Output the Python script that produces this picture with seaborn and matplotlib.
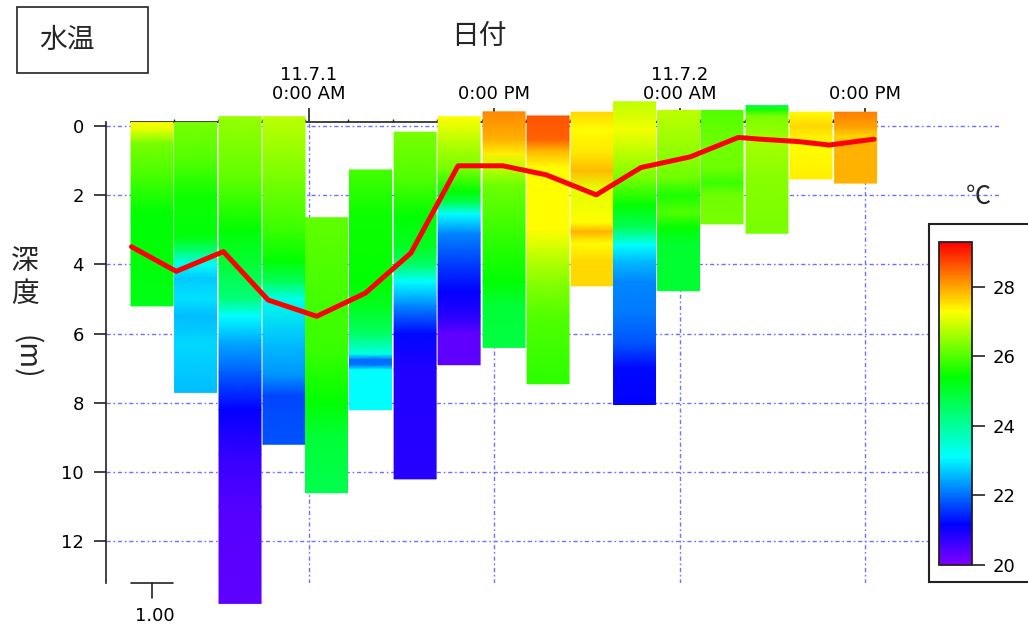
import numpy as np
import matplotlib
matplotlib.use("Agg")
import matplotlib.pyplot as plt
import matplotlib.transforms as mtransforms
from matplotlib.colors import LinearSegmentedColormap, Normalize
from matplotlib.patches import Rectangle
from matplotlib.lines import Line2D
from matplotlib.cm import ScalarMappable
import seaborn as sns

# ---------------- data ----------------
# hours relative to 11.7.1 0:00 AM
bar_hours = [-10.17, -7.35, -4.47, -1.62, 1.13, 3.98, 6.87, 9.72, 12.63,
             15.48, 18.33, 21.08, 23.93, 26.75, 29.66, 32.51, 35.40]

profile_depths = [
    [-0.10, 0.15, 0.5, 1.5, 2.5, 4.0, 5.2],
    [-0.10, 1.0, 2.0, 3.2, 3.6, 4.0, 4.4, 5.0, 5.5, 6.3, 7.7],
    [-0.27, 1.5, 3.0, 4.0, 5.0, 5.5, 6.2, 7.1, 8.2, 9.5, 11.0, 13.8],
    [-0.27, 1.5, 3.0, 3.9, 4.5, 5.0, 6.3, 7.2, 7.8, 9.2],
    [2.65, 5.0, 6.5, 8.0, 9.0, 10.6],
    [1.27, 2.5, 4.5, 5.3, 6.0, 6.6, 6.75, 6.9, 7.05, 8.2],
    [0.18, 1.5, 2.6, 3.5, 4.0, 4.5, 5.2, 6.0, 7.0, 10.2],
    [-0.27, 0.4, 1.3, 1.9, 2.2, 2.55, 3.1, 4.0, 4.8, 5.5, 6.0, 6.9],
    [-0.41, 0.4, 0.8, 1.2, 1.7, 3.0, 4.5, 5.2, 6.4],
    [-0.29, 0.4, 0.7, 1.2, 3.0, 3.6, 4.5, 5.5, 7.45],
    [-0.40, 0.1, 0.8, 1.3, 1.8, 2.4, 2.8, 3.05, 3.4, 3.9, 4.62],
    [-0.70, 0.1, 0.6, 1.5, 2.3, 2.95, 3.45, 3.9, 4.5, 5.4, 6.3, 7.0, 8.05],
    [-0.45, 0.6, 1.5, 2.0, 2.5, 2.95, 3.4, 4.76],
    [-0.45, 0.5, 1.2, 1.65, 2.0, 2.83],
    [-0.59, -0.45, -0.3, 0.5, 1.5, 3.1],
    [-0.40, 0.0, 0.3, 0.6, 1.53],
    [-0.40, 0.05, 0.3, 0.55, 1.0, 1.65],
]

profile_temps = [
    [27.3, 27.0, 26.3, 25.9, 25.4, 25.3, 25.2],
    [26.3, 26.0, 25.5, 25.3, 24.4, 23.2, 22.7, 22.9, 22.6, 22.8, 22.6],
    [26.5, 26.1, 25.4, 24.9, 24.3, 23.1, 22.5, 21.9, 21.15, 20.7, 20.4, 20.3],
    [26.8, 26.3, 25.8, 25.4, 24.6, 23.3, 22.6, 22.3, 21.7, 21.8],
    [26.1, 25.9, 25.8, 25.4, 24.9, 24.7],
    [25.9, 25.5, 25.4, 25.1, 24.5, 23.3, 22.0, 22.0, 23.1, 23.1],
    [26.3, 26.0, 25.4, 25.1, 24.5, 23.1, 22.2, 21.2, 20.9, 20.8],
    [27.3, 26.8, 26.2, 25.4, 24.7, 23.1, 22.2, 21.6, 21.15, 20.8, 20.3, 20.3],
    [28.2, 27.9, 27.4, 26.8, 26.2, 25.8, 25.4, 24.9, 24.8],
    [28.6, 28.5, 27.9, 27.3, 27.3, 26.9, 26.4, 26.0, 25.7],
    [27.6, 27.3, 27.5, 27.8, 27.1, 27.2, 27.3, 27.9, 27.3, 27.6, 27.6],
    [26.8, 27.2, 26.9, 26.3, 25.4, 24.6, 23.1, 22.6, 22.2, 22.1, 21.8, 21.2, 21.15],
    [26.8, 26.5, 26.2, 25.6, 26.0, 25.4, 25.0, 24.95],
    [26.0, 26.2, 26.2, 25.8, 26.2, 26.3],
    [24.8, 25.6, 26.3, 26.6, 26.4, 26.3],
    [27.3, 27.6, 27.4, 27.3, 27.4],
    [28.3, 28.0, 27.6, 27.9, 27.9, 27.9],
]

line_hours = [-11.5, -8.6, -5.55, -2.65, 0.5, 3.65, 6.6, 9.65, 12.55, 15.35,
              18.6, 21.5, 24.7, 27.8, 29.2, 31.7, 33.7, 35.05, 36.6]
line_depths = [3.49, 4.2, 3.63, 5.03, 5.5, 4.83, 3.67, 1.15, 1.15, 1.41,
               1.99, 1.2, 0.89, 0.33, 0.38, 0.45, 0.55, 0.47, 0.38]

x_ticks = [0, 12, 24, 36]
x_tick_labels = ["11.7.1\n0:00 AM", "0:00 PM", "11.7.2\n0:00 AM", "0:00 PM"]
y_ticks = [0, 2, 4, 6, 8, 10, 12]
cbar_ticks = [20, 22, 24, 26, 28]
temp_min, temp_max = 20.0, 29.28
scale_label = "1.00"

# ---------------- style ----------------
sns.set_theme(style="white")
plt.rcParams["font.family"] = ["DejaVu Sans", "Noto Sans CJK JP"]
CJK = ["Noto Sans CJK JP", "DejaVu Sans"]

W, H = 1028, 632
fig = plt.figure(figsize=(W / 100, H / 100), dpi=100)
fig.patch.set_facecolor("white")

def fx(px):
    return px / W

def fy(py):
    return 1 - py / H

ax = fig.add_axes([fx(106), fy(583), fx(1000) - fx(106), (583 - 122) / H])
ax.set_facecolor("none")

nodes = [(20.0, "#7f00ff"), (21.15, "#0000ff"), (23.1, "#00ffff"),
         (25.4, "#00ff00"), (27.3, "#ffff00"), (29.28, "#ff0000")]
cmap = LinearSegmentedColormap.from_list(
    "wt", [((v - temp_min) / (temp_max - temp_min), c) for v, c in nodes])
norm = Normalize(temp_min, temp_max)

bar_width = 2.72

for h, d, t in zip(bar_hours, profile_depths, profile_temps):
    d = np.asarray(d, float)
    t = np.asarray(t, float)
    X = np.column_stack([np.full_like(d, h - bar_width / 2), np.full_like(d, h + bar_width / 2)])
    Y = np.column_stack([d, d])
    C = np.column_stack([t, t])
    ax.pcolormesh(X, Y, C, shading="gouraud", cmap=cmap, norm=norm,
                  zorder=3, clip_on=False)

sns.lineplot(x=line_hours, y=line_depths, ax=ax, color="#ff0000", linewidth=3.6,
             sort=False, estimator=None, zorder=5)
ax.set_xlabel("")
ax.set_ylabel("")

ax.set_xlim(-13.15, 44.75)
ax.set_ylim(13.21, -0.116)

# spines
for s in ["right", "bottom"]:
    ax.spines[s].set_visible(False)
for s in ["left", "top"]:
    ax.spines[s].set_color("#222222")
    ax.spines[s].set_linewidth(1.2)
ax.spines["top"].set_bounds(bar_hours[0] - bar_width / 2, bar_hours[-1] + bar_width / 2)

# x ticks on top
ax.xaxis.tick_top()
ax.set_xticks(x_ticks)
ax.set_xticklabels(x_tick_labels)
minor = [(a + b) / 2 for a, b in zip(bar_hours[:-1], bar_hours[1:])]
ax.set_xticks(minor, minor=True)
ax.tick_params(axis="x", which="major", top=True, bottom=False, direction="out",
               length=10, width=1.2, pad=4, labelsize=13, colors="#222222",
               labelcolor="black")
ax.tick_params(axis="x", which="minor", top=True, bottom=False, direction="out",
               length=2, width=1, colors="#222222")
for lab in ax.get_xticklabels():
    lab.set_linespacing(1.05)

ax.set_yticks(y_ticks)
ax.tick_params(axis="y", left=True, direction="out", length=9, width=1.2, pad=7,
               labelsize=13, colors="#222222", labelcolor="black")

ax.set_axisbelow(True)
ax.grid(True, which="major", color="#7070ff", linestyle=(0, (3, 2, 1.2, 2)), linewidth=1)

# scale bar under first bar
trans = mtransforms.blended_transform_factory(ax.transData, ax.transAxes)
x0 = bar_hours[0] - bar_width / 2
x1 = bar_hours[0] + bar_width / 2
ax.add_line(Line2D([x0, x1], [0, 0], transform=trans, color="#222222", lw=1.2, clip_on=False))
ax.add_line(Line2D([bar_hours[0], bar_hours[0]], [0, -0.033], transform=trans,
                   color="#222222", lw=1.2, clip_on=False))
ax.text(bar_hours[0] + 0.2, -0.072, scale_label, transform=trans, ha="center", va="center",
        fontsize=13, color="black")

# titles / labels
fig.add_artist(Rectangle((fx(17), fy(73)), fx(148) - fx(17), (73 - 7) / H,
                         transform=fig.transFigure, facecolor="white",
                         edgecolor="#222222", lw=1.2, zorder=1))
fig.text(fx(67), fy(40), "水温", family=CJK, fontsize=20, ha="center", va="center", zorder=2)
fig.text(fx(479), fy(36), "日付", family=CJK, fontsize=20, ha="center", va="center")
fig.text(fx(25), fy(261), "深", family=CJK, fontsize=20, ha="center", va="center")
fig.text(fx(25), fy(294), "度", family=CJK, fontsize=20, ha="center", va="center")
fig.text(fx(25), fy(357), "(m)", family=CJK, fontsize=20, ha="center", va="center",
         rotation=-90)

# colorbar legend box
fig.add_artist(Rectangle((fx(929), fy(582)), 0.2, (582 - 224) / H,
                         transform=fig.transFigure, facecolor="white",
                         edgecolor="#222222", lw=1.5, zorder=2))
cax = fig.add_axes([fx(939), fy(565), fx(972) - fx(939), (565 - 242) / H])
cax.set_zorder(3)
cb = fig.colorbar(ScalarMappable(norm=norm, cmap=cmap), cax=cax)
cb.set_ticks(cbar_ticks)
cb.outline.set_edgecolor("#222222")
cb.outline.set_linewidth(1.3)
cax.tick_params(axis="y", right=True, direction="out", length=9, width=1.2, pad=6,
                labelsize=13, colors="#222222", labelcolor="black")
fig.text(fx(978), fy(197), "℃", family=CJK, fontsize=18, ha="center", va="center")

fig.savefig("out.png", dpi=100)
